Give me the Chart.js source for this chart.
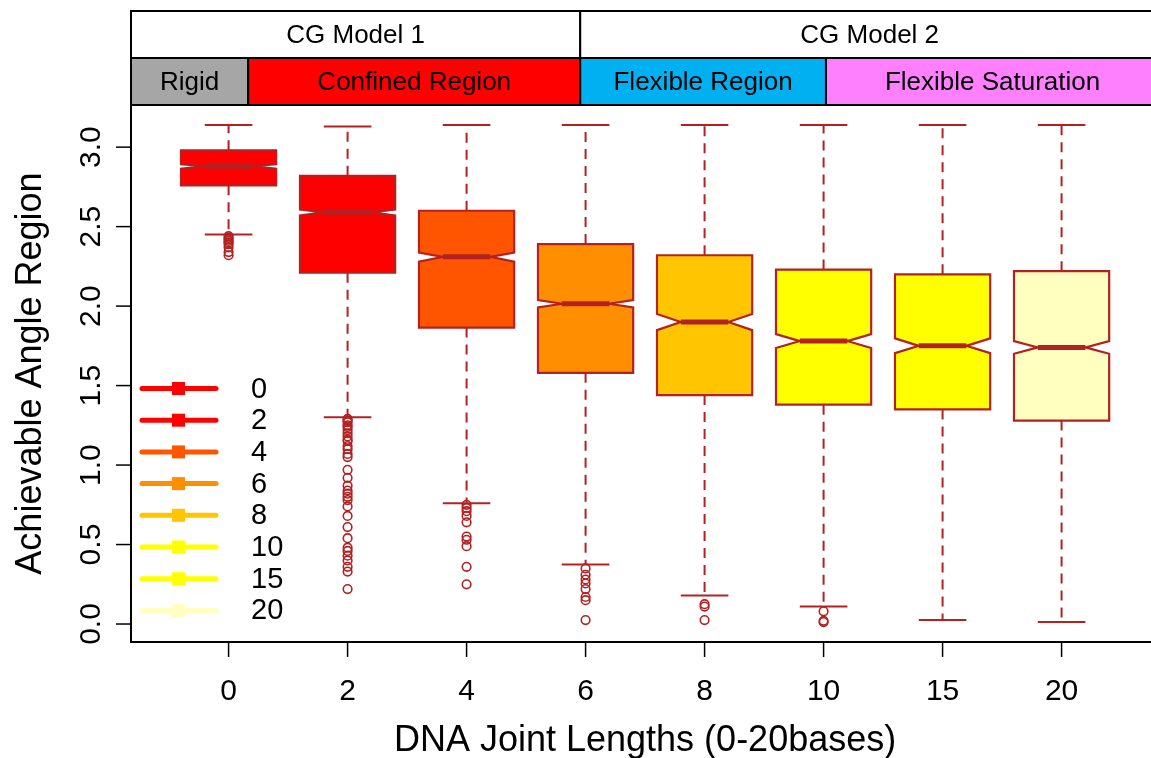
<!DOCTYPE html>
<html>
<head>
<meta charset="utf-8">
<title>Achievable Angle Region by DNA Joint Length</title>
<script src="https://cdn.jsdelivr.net/npm/chart.js@4/dist/chart.umd.min.js"></script>
<style>
  html, body { margin: 0; padding: 0; overflow: hidden; background: #ffffff; }
  canvas { display: block; }
</style>
</head>
<body>
<canvas id="chart" width="1151" height="758"></canvas>
<script>
// Joint lengths (bases) shown along the x axis
const categories = ['0', '2', '4', '6', '8', '10', '15', '20'];

// Five-number summaries of the achievable angle (radians) per joint length
const whiskerHigh = [3.14, 3.13, 3.14, 3.14, 3.14, 3.14, 3.14, 3.14];
const upperQuartile = [2.98, 2.82, 2.60, 2.39, 2.32, 2.23, 2.20, 2.22];
const medians = [2.88, 2.59, 2.31, 2.015, 1.90, 1.78, 1.75, 1.74];
const lowerQuartile = [2.76, 2.21, 1.865, 1.58, 1.44, 1.38, 1.35, 1.28];
const whiskerLow = [2.45, 1.30, 0.76, 0.375, 0.18, 0.11, 0.025, 0.013];

// Notch limits (confidence interval of the median)
const notchLow = [2.864, 2.570, 2.279, 1.992, 1.849, 1.736, 1.704, 1.700];
const notchHigh = [2.893, 2.608, 2.336, 2.038, 1.950, 1.824, 1.797, 1.780];

// Points beyond the whiskers
const outliers0 = [2.44, 2.43, 2.42, 2.41, 2.40, 2.39, 2.37, 2.34, 2.32];
const outliers2 = [1.29, 1.28, 1.27, 1.25, 1.24, 1.22, 1.20, 1.18, 1.16, 1.15, 1.12, 1.10, 1.07, 1.05,
                   0.97, 0.92, 0.87, 0.84, 0.82, 0.80, 0.78, 0.74, 0.68, 0.61, 0.54, 0.48, 0.46, 0.43,
                   0.40, 0.36, 0.33, 0.22];
const outliers4 = [0.75, 0.73, 0.71, 0.68, 0.64, 0.55, 0.53, 0.49, 0.36, 0.25];
const outliers6 = [0.35, 0.31, 0.28, 0.255, 0.22, 0.17, 0.15, 0.025];
const outliers8 = [0.125, 0.11, 0.025];
const outliers10 = [0.08, 0.02, 0.012];
const outliers15 = [];
const outliers20 = [];

// Y axis tick values
const yTicks = [0.0, 0.5, 1.0, 1.5, 2.0, 2.5, 3.0];

// Model / regime strips above the plot
const modelLabels = ['CG Model 1', 'CG Model 2'];
const regimeLabels = ['Rigid', 'Confined Region', 'Flexible Region', 'Flexible Saturation'];

// Palette
const boxFills = ['#FF0000', '#FF0000', '#FF5500', '#FF8F00', '#FFC600', '#FFFF00', '#FFFF00', '#FFFFBF'];
const regimeFills = ['#A6A6A6', '#FF0000', '#00B0F0', '#FF80FF'];
const edgeColor = '#B22222';

const allOutliers = [outliers0, outliers2, outliers4, outliers6, outliers8, outliers10, outliers15, outliers20];
const outlierPoints = [];
allOutliers.forEach((list, i) => list.forEach(v => outlierPoints.push({ x: i + 1, y: v })));

// Axis limits padded by 4% of the data range on each side
const xMin = 1 - 0.5 - 0.04 * categories.length;
const xEnd = categories.length + 0.5 + 0.04 * categories.length;   // frame edge, just past the window
const xVisible = xMin + 1020 / 119;                                 // part of the x range inside the canvas
const yLo = Math.min(...whiskerLow, ...allOutliers.flat());
const yHi = Math.max(...whiskerHigh);
const yPad = 0.04 * (yHi - yLo);

const FONT = '"Liberation Sans", Arial, Helvetica, sans-serif';

// Draws the notched boxes, whiskers and caps
const boxPlotPlugin = {
  id: 'notchedBoxes',
  beforeDatasetsDraw(chart) {
    const { ctx, scales: { x: xs, y: ys } } = chart;
    ctx.save();
    categories.forEach((_, i) => {
      const cx = xs.getPixelForValue(i + 1);
      const hw = xs.getPixelForValue(i + 1.4) - cx;
      const yQ1 = ys.getPixelForValue(lowerQuartile[i]);
      const yQ3 = ys.getPixelForValue(upperQuartile[i]);
      const yMed = ys.getPixelForValue(medians[i]);
      const yNl = ys.getPixelForValue(notchLow[i]);
      const yNh = ys.getPixelForValue(notchHigh[i]);
      const yWl = ys.getPixelForValue(whiskerLow[i]);
      const yWh = ys.getPixelForValue(whiskerHigh[i]);

      // whiskers (dashed)
      ctx.strokeStyle = edgeColor;
      ctx.lineWidth = 2;
      ctx.setLineDash([10, 7]);
      ctx.beginPath();
      ctx.moveTo(cx, yQ3); ctx.lineTo(cx, yWh);
      ctx.moveTo(cx, yQ1); ctx.lineTo(cx, yWl);
      ctx.stroke();
      ctx.setLineDash([]);

      // caps
      ctx.beginPath();
      ctx.moveTo(cx - hw / 2, yWh); ctx.lineTo(cx + hw / 2, yWh);
      ctx.moveTo(cx - hw / 2, yWl); ctx.lineTo(cx + hw / 2, yWl);
      ctx.stroke();

      // notched box
      ctx.beginPath();
      ctx.moveTo(cx - hw, yQ1);
      ctx.lineTo(cx - hw, yNl);
      ctx.lineTo(cx - hw / 2, yMed);
      ctx.lineTo(cx - hw, yNh);
      ctx.lineTo(cx - hw, yQ3);
      ctx.lineTo(cx + hw, yQ3);
      ctx.lineTo(cx + hw, yNh);
      ctx.lineTo(cx + hw / 2, yMed);
      ctx.lineTo(cx + hw, yNl);
      ctx.lineTo(cx + hw, yQ1);
      ctx.closePath();
      ctx.fillStyle = boxFills[i];
      ctx.fill();
      ctx.lineJoin = 'miter';
      ctx.lineWidth = 2.2;
      ctx.stroke();

      // median
      ctx.lineWidth = 5;
      ctx.lineCap = 'butt';
      ctx.beginPath();
      ctx.moveTo(cx - hw / 2, yMed); ctx.lineTo(cx + hw / 2, yMed);
      ctx.stroke();
    });
    ctx.restore();
  },
  afterDraw(chart) {
    const { ctx, chartArea: a, scales: { x: xs, y: ys } } = chart;
    ctx.save();
    const xRight = xs.getPixelForValue(xEnd);

    // header strips
    const rowTop = 11, rowMid = 58, rowBot = a.top;
    const modelEdges = [xMin, 3.955, xEnd];
    const regimeEdges = [xMin, 1.165, 3.955, 6.02, xEnd];
    ctx.lineWidth = 2;
    ctx.strokeStyle = '#000';
    ctx.font = '26px ' + FONT;
    ctx.textAlign = 'center';
    ctx.textBaseline = 'middle';
    modelLabels.forEach((lab, k) => {
      const x0 = xs.getPixelForValue(modelEdges[k]);
      const x1 = xs.getPixelForValue(modelEdges[k + 1]);
      ctx.fillStyle = '#fff';
      ctx.fillRect(x0, rowTop, x1 - x0, rowMid - rowTop);
      ctx.strokeRect(x0, rowTop, x1 - x0, rowMid - rowTop);
      ctx.fillStyle = '#000';
      ctx.fillText(lab, (x0 + x1) / 2, (rowTop + rowMid) / 2 + 1);
    });
    regimeLabels.forEach((lab, k) => {
      const x0 = xs.getPixelForValue(regimeEdges[k]);
      const x1 = xs.getPixelForValue(regimeEdges[k + 1]);
      ctx.fillStyle = regimeFills[k];
      ctx.fillRect(x0, rowMid, x1 - x0, rowBot - rowMid);
      ctx.strokeRect(x0, rowMid, x1 - x0, rowBot - rowMid);
      ctx.fillStyle = '#000';
      ctx.fillText(lab, (x0 + x1) / 2, (rowMid + rowBot) / 2 + 1);
    });

    // plot frame
    ctx.lineWidth = 2;
    ctx.strokeStyle = '#000';
    ctx.strokeRect(a.left, a.top, xRight - a.left, a.bottom - a.top);

    // x axis ticks and labels
    ctx.lineWidth = 1.5;
    ctx.font = '30px ' + FONT;
    ctx.textAlign = 'center';
    ctx.textBaseline = 'alphabetic';
    ctx.fillStyle = '#000';
    categories.forEach((lab, i) => {
      const px = xs.getPixelForValue(i + 1);
      ctx.beginPath();
      ctx.moveTo(px, a.bottom); ctx.lineTo(px, a.bottom + 15);
      ctx.stroke();
      ctx.fillText(lab, px, 700);
    });

    // y axis ticks and rotated labels
    yTicks.forEach(v => {
      const py = ys.getPixelForValue(v);
      ctx.beginPath();
      ctx.moveTo(a.left, py); ctx.lineTo(a.left - 15, py);
      ctx.stroke();
      ctx.save();
      ctx.translate(100, py);
      ctx.rotate(-Math.PI / 2);
      ctx.fillText(v.toFixed(1), 0, 0);
      ctx.restore();
    });

    // axis titles
    ctx.font = '36px ' + FONT;
    ctx.fillText('DNA Joint Lengths (0-20bases)', (a.left + xRight) / 2, 751);
    ctx.save();
    ctx.translate(41, (a.top + a.bottom) / 2);
    ctx.rotate(-Math.PI / 2);
    ctx.fillText('Achievable Angle Region', 0, 0);
    ctx.restore();

    // legend
    ctx.font = '29px ' + FONT;
    ctx.textAlign = 'left';
    ctx.textBaseline = 'middle';
    categories.forEach((lab, i) => {
      const ly = 388.5 + i * 31.7;
      ctx.strokeStyle = boxFills[i];
      ctx.fillStyle = boxFills[i];
      ctx.lineWidth = 5;
      ctx.lineCap = 'round';
      ctx.beginPath();
      ctx.moveTo(142, ly); ctx.lineTo(216, ly);
      ctx.stroke();
      ctx.fillRect(172, ly - 6.5, 13, 13);
      ctx.fillStyle = '#000';
      ctx.fillText(lab, 251, ly + 1);
    });
    ctx.restore();
  }
};

new Chart(document.getElementById('chart'), {
  type: 'scatter',
  data: {
    datasets: [{
      label: 'outliers',
      data: outlierPoints,
      pointStyle: 'circle',
      pointRadius: 4.3,
      pointBorderWidth: 1.6,
      borderColor: edgeColor,
      backgroundColor: 'rgba(0,0,0,0)'
    }]
  },
  options: {
    responsive: false,
    animation: false,
    layout: { autoPadding: false, padding: { left: 131, top: 105, right: 0, bottom: 116 } },
    plugins: { legend: { display: false }, tooltip: { enabled: false } },
    scales: {
      x: { type: 'linear', min: xMin, max: xVisible, display: false },
      y: { type: 'linear', min: yLo - yPad, max: yHi + yPad, display: false }
    }
  },
  plugins: [boxPlotPlugin]
});
</script>
</body>
</html>
